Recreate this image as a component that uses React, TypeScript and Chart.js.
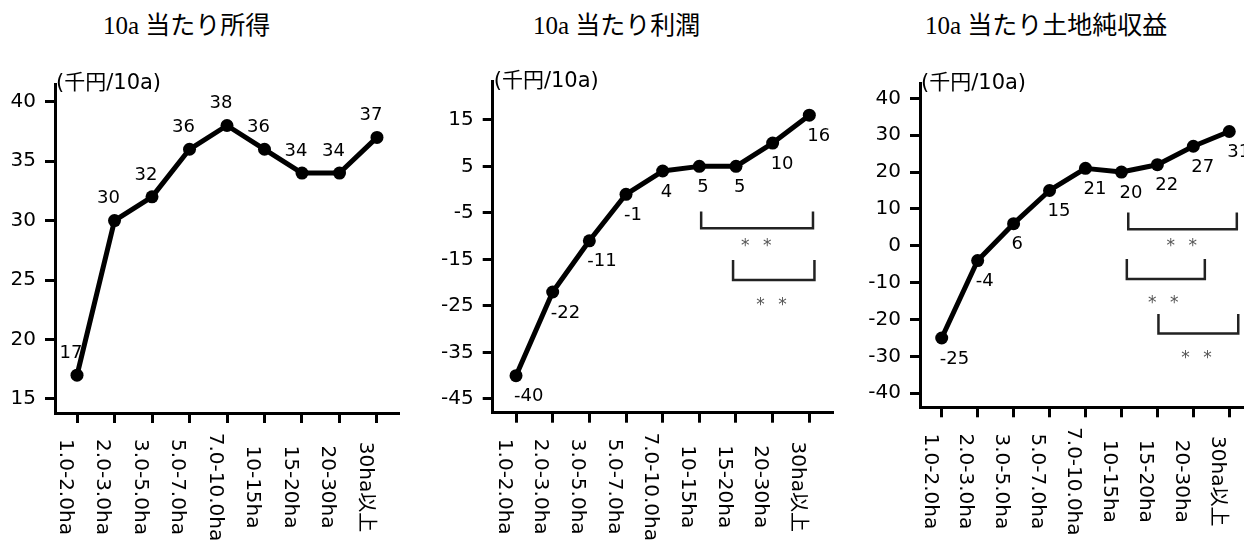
import React, { useEffect, useRef } from "react";
import { Chart, registerables } from "chart.js";

Chart.register(...registerables);

const categories = [
  "1.0-2.0ha",
  "2.0-3.0ha",
  "3.0-5.0ha",
  "5.0-7.0ha",
  "7.0-10.0ha",
  "10-15ha",
  "15-20ha",
  "20-30ha",
  "30ha以上",
];
const incomeValues = [17, 30, 32, 36, 38, 36, 34, 34, 37];
const profitValues = [-40, -22, -11, -1, 4, 5, 5, 10, 16];
const landValues = [-25, -4, 6, 15, 21, 20, 22, 27, 31];

const incomeTicks = [15, 20, 25, 30, 35, 40];
const profitTicks = [-45, -35, -25, -15, -5, 5, 15];
const landTicks = [-40, -30, -20, -10, 0, 10, 20, 30, 40];

const titles = ["10a 当たり所得", "10a 当たり利潤", "10a 当たり土地純収益"];
const unitLabel = "(千円/10a)";
const sigMark = "**";

// significance brackets: [fromIndex, toIndex, topValue, bottomValue, markIndex, markValue]
const profitBrackets = [
  [5.05, 8.1, -4.7, -8.3, 6.55, -11.2],
  [5.92, 8.14, -15.1, -19.4, 6.97, -23.9],
];
const landBrackets = [
  [5.19, 8.21, 9.0, 4.5, 6.68, 1.1],
  [5.15, 7.32, -3.6, -9.0, 6.16, -14.4],
  [6.03, 8.25, -18.5, -23.8, 7.09, -29.2],
];
const incomeBrackets: number[][] = [];

const FONT = "'DejaVu Sans', 'Noto Sans CJK JP', sans-serif";

type Cfg = {
  values: number[];
  ticks: number[];
  brackets: number[][];
  yMin: number;
  yMax: number;
  xMin: number;
  xMax: number;
  left: number;
  width: number;
  yWidth: number;
  top: number;
  padRight: number;
  bottomH: number;
  above: boolean;
};

function LineChart({ cfg }: { cfg: Cfg }) {
  const ref = useRef<HTMLCanvasElement | null>(null);

  useEffect(() => {
    if (!ref.current) return;

    const drawValueLabels = (chart: any) => {
      const ctx = chart.ctx;
      const meta = chart.getDatasetMeta(0);
      ctx.save();
      ctx.font = `18px ${FONT}`;
      ctx.fillStyle = "#000";
      ctx.textBaseline = "middle";
      meta.data.forEach((pt: any, i: number) => {
        const label = String(cfg.values[i]);
        if (cfg.above) {
          ctx.textAlign = "center";
          ctx.fillText(label, pt.x - 6, pt.y - 22);
        } else {
          ctx.textAlign = "left";
          ctx.fillText(label, pt.x - 2, pt.y + 21);
        }
      });
      ctx.restore();
    };

    const plugin = {
      id: "customDecor",
      beforeDatasetsDraw(chart: any) {
        if (cfg.above) drawValueLabels(chart);
      },
      afterDatasetsDraw(chart: any) {
        if (!cfg.above) drawValueLabels(chart);
        const ctx = chart.ctx;
        const xs = chart.scales.x;
        const ys = chart.scales.y;
        ctx.save();
        for (const b of cfg.brackets) {
          const [a, c, top, bot, mx, my] = b;
          const x1 = xs.getPixelForValue(a);
          const x2 = xs.getPixelForValue(c);
          const y1 = ys.getPixelForValue(top);
          const y2 = ys.getPixelForValue(bot);
          ctx.strokeStyle = "#222";
          ctx.lineWidth = 2.5;
          ctx.beginPath();
          ctx.moveTo(x1, y1);
          ctx.lineTo(x1, y2);
          ctx.lineTo(x2, y2);
          ctx.lineTo(x2, y1);
          ctx.stroke();
          const px = xs.getPixelForValue(mx);
          const py = ys.getPixelForValue(my);
          ctx.fillStyle = "#555";
          ctx.font = `17px ${FONT}`;
          ctx.textAlign = "center";
          ctx.textBaseline = "middle";
          const chars = sigMark.split("");
          chars.forEach((ch, k) => {
            const off = (k - (chars.length - 1) / 2) * 22;
            ctx.fillText(ch, px + off, py + 5);
          });
        }
        ctx.restore();
      },
      afterDraw(chart: any) {
        const ctx = chart.ctx;
        const xs = chart.scales.x;
        const area = chart.chartArea;
        ctx.save();
        // rotated category labels
        ctx.font = `20px ${FONT}`;
        ctx.fillStyle = "#000";
        ctx.textAlign = "center";
        ctx.textBaseline = "middle";
        xs.ticks.forEach((t: any) => {
          const px = xs.getPixelForValue(t.value);
          ctx.save();
          ctx.translate(px - 12, area.bottom + 74);
          ctx.rotate(Math.PI / 2);
          ctx.fillText(categories[t.value], 0, 0);
          ctx.restore();
        });
        // unit label
        ctx.font = `21px ${FONT}`;
        ctx.textAlign = "left";
        ctx.textBaseline = "middle";
        ctx.fillText(unitLabel, area.left + 1, area.top);
        ctx.restore();
      },
    };

    const gridOpts = {
      display: true,
      drawOnChartArea: false,
      drawTicks: true,
      tickLength: 10,
      tickWidth: 3,
      tickColor: "#000",
    };
    const borderOpts = { display: true, color: "#000", width: 3 };

    const chart = new Chart(ref.current, {
      type: "line",
      data: {
        datasets: [
          {
            data: cfg.values.map((v, i) => ({ x: i, y: v })),
            borderColor: "#000",
            backgroundColor: "#000",
            borderWidth: 5,
            borderJoinStyle: "round",
            pointRadius: 6.5,
            pointHoverRadius: 6.5,
            pointBackgroundColor: "#000",
            pointBorderWidth: 0,
            tension: 0,
            clip: false,
          } as any,
        ],
      },
      options: {
        animation: false,
        responsive: false,
        events: [],
        layout: {
          autoPadding: false,
          padding: { top: cfg.top, right: cfg.padRight, left: 0, bottom: 0 },
        },
        plugins: {
          legend: { display: false },
          tooltip: { enabled: false },
          title: { display: false },
        },
        scales: {
          x: {
            type: "linear",
            min: cfg.xMin,
            max: cfg.xMax,
            afterBuildTicks: (s: any) => {
              s.ticks = categories.map((_, i) => ({ value: i }));
            },
            afterFit: (s: any) => {
              s.height = cfg.bottomH;
            },
            ticks: { display: false },
            grid: gridOpts,
            border: borderOpts,
          },
          y: {
            type: "linear",
            min: cfg.yMin,
            max: cfg.yMax,
            afterBuildTicks: (s: any) => {
              s.ticks = cfg.ticks.map((v) => ({ value: v }));
            },
            afterFit: (s: any) => {
              s.width = cfg.yWidth;
            },
            ticks: { color: "#000", font: { family: FONT, size: 20 }, padding: 9 },
            grid: gridOpts,
            border: borderOpts,
          },
        },
      } as any,
      plugins: [plugin],
    });

    return () => chart.destroy();
  }, []);

  return (
    <canvas
      ref={ref}
      width={cfg.width}
      height={540}
      style={{ position: "absolute", left: cfg.left, top: 0, width: cfg.width, height: 540 }}
    />
  );
}

const charts: Cfg[] = [
  {
    values: incomeValues,
    ticks: incomeTicks,
    brackets: incomeBrackets,
    yMin: 13.82,
    yMax: 41.49,
    xMin: -0.587,
    xMax: 8.587,
    left: 0,
    width: 415,
    yWidth: 55,
    top: 84,
    padRight: 16,
    bottomH: 127,
    above: true,
  },
  {
    values: profitValues,
    ticks: profitTicks,
    brackets: profitBrackets,
    yMin: -47.95,
    yMax: 23.2,
    xMin: -0.636,
    xMax: 8.646,
    left: 430,
    width: 420,
    yWidth: 62.7,
    top: 81.7,
    padRight: 17,
    bottomH: 127.3,
    above: false,
  },
  {
    values: landValues,
    ticks: landTicks,
    brackets: landBrackets,
    yMin: -43.8,
    yMax: 44.07,
    xMin: -0.604,
    xMax: 8.41,
    left: 860,
    width: 384,
    yWidth: 60,
    top: 83.3,
    padRight: 0,
    bottomH: 132.7,
    above: false,
  },
];

const titleLefts = [103, 533, 925];

export default function App() {
  return (
    <div
      style={{
        position: "absolute",
        left: 0,
        top: 0,
        width: 1244,
        height: 540,
        background: "#fff",
        overflow: "hidden",
      }}
    >
      {titles.map((t, i) => (
        <div
          key={t}
          style={{
            position: "absolute",
            left: titleLefts[i],
            top: 11,
            fontFamily: "'Liberation Serif', 'Noto Sans CJK JP', serif",
            fontSize: 25,
            lineHeight: "30px",
            whiteSpace: "nowrap",
            color: "#000",
          }}
        >
          {t}
        </div>
      ))}
      {charts.map((c, i) => (
        <LineChart key={i} cfg={c} />
      ))}
    </div>
  );
}
